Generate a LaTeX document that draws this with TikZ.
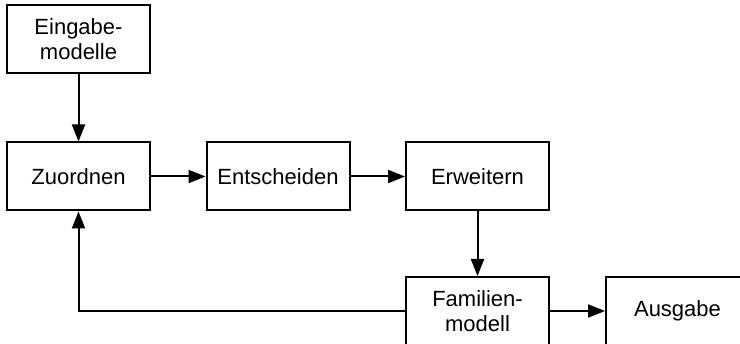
\documentclass[tikz,border=0pt]{standalone}
\usepackage{fontspec}
\setmainfont{Liberation Sans}
\usetikzlibrary{arrows.meta}
\begin{document}
\begin{tikzpicture}[x=1pt,y=-1pt,
  stage/.style={draw, line width=2pt, minimum width=143pt, minimum height=68pt,
    inner sep=0pt, align=center, font=\fontsize{22}{25.5}\selectfont},
  flow/.style={line width=2pt, -{Triangle[length=17pt,width=13pt]}}]
  % page frame: the lower row runs past the bottom and right edges
  \clip (0,0) rectangle (740,344);
  \node[stage] (ein) at (78.5,39)   {Eingabe-\\modelle};
  \node[stage] (zuo) at (78.5,176.5) {Zuordnen};
  \node[stage] (ent) at (278,176.5) {Entscheiden};
  \node[stage] (erw) at (477.5,176.5) {Erweitern};
  \node[stage] (fam) at (477.5,311) {Familien-\\modell};
  \node[stage] (aus) at (677.5,311) {Ausgabe};
  \draw[flow] (ein) -- (zuo);
  \draw[flow] (zuo) -- (ent);
  \draw[flow] (ent) -- (erw);
  \draw[flow] (erw) -- (fam);
  \draw[flow] (fam) -- (aus);
  \draw[flow] (fam.west) -| (zuo.south);
\end{tikzpicture}
\end{document}
